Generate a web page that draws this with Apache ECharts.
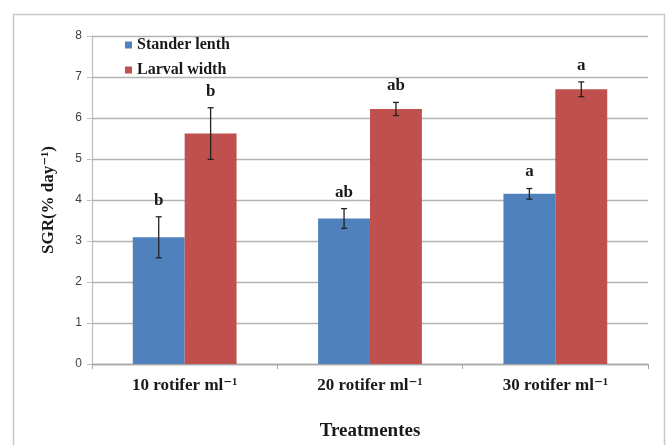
<!DOCTYPE html>
<html>
<head>
<meta charset="utf-8">
<script src="https://cdn.jsdelivr.net/npm/echarts@6/dist/echarts.min.js"></script>
<style>
  html, body { margin: 0; padding: 0; background: #ffffff; }
  #chart { width: 671px; height: 445px; }
</style>
</head>
<body>
<div id="chart"></div>
<script>
// Treatments on the x axis
const categories = ['10 rotifer ml\u207B\u00B9', '20 rotifer ml\u207B\u00B9', '30 rotifer ml\u207B\u00B9'];

// Mean SGR (% day^-1) per treatment
const standerLenth = [3.09, 3.55, 4.15];
const larvalWidth = [5.62, 6.22, 6.70];

// Standard error per mean
const standerLenthErr = [0.50, 0.24, 0.13];
const larvalWidthErr = [0.63, 0.16, 0.18];

// Significance letters above each bar
const standerLenthSig = ['b', 'ab', 'a'];
const larvalWidthSig = ['b', 'ab', 'a'];

// Y axis ticks
const yTicks = [0, 1, 2, 3, 4, 5, 6, 7, 8];

const BLUE = '#4F81BD';
const RED = '#C0504D';
const BAR_FRAC = 0.28;
const serif = '"Liberation Serif", "DejaVu Serif", serif';

function errorSeries(name, means, errs, sigs, side) {
  const data = means.map((m, i) => [i, m, errs[i], sigs[i]]);
  return {
    name: name + ' error',
    type: 'custom',
    z: 5,
    data: data,
    renderItem: function (params, api) {
      const idx = api.value(0);
      const mean = api.value(1);
      const err = api.value(2);
      const band = api.size([1, 0])[0];
      const bw = band * BAR_FRAC;
      const center = api.coord([idx, mean]);
      const x = center[0] + side * bw / 2;
      const top = api.coord([idx, mean + err])[1];
      const bot = api.coord([idx, mean - err])[1];
      const cap = 3;
      const ls = { stroke: '#222', lineWidth: 1.3 };
      return {
        type: 'group',
        children: [
          { type: 'line', shape: { x1: x, y1: top, x2: x, y2: bot }, style: ls },
          { type: 'line', shape: { x1: x - cap, y1: top, x2: x + cap, y2: top }, style: ls },
          { type: 'line', shape: { x1: x - cap, y1: bot, x2: x + cap, y2: bot }, style: ls },
          {
            type: 'text',
            style: {
              x: x, y: top - 8,
              text: sigs[idx],
              textAlign: 'center', textVerticalAlign: 'bottom',
              font: 'bold 17px ' + serif,
              fill: '#1a1a1a'
            }
          }
        ]
      };
    }
  };
}

const chart = echarts.init(document.getElementById('chart'), null, { renderer: 'canvas' });

chart.setOption({
  backgroundColor: '#ffffff',
  animation: false,
  graphic: [{
    type: 'rect',
    shape: { x: 13.5, y: 14.5, width: 651, height: 440 },
    style: { fill: 'none', stroke: '#c8c8c8', lineWidth: 1.5 },
    z: -10
  }],
  legend: {
    orient: 'vertical',
    left: 120,
    top: 32,
    itemWidth: 7,
    itemHeight: 7,
    itemGap: 9,
    icon: 'rect',
    textStyle: { fontFamily: serif, fontWeight: 'bold', fontSize: 16, color: '#1a1a1a' },
    data: ['Stander lenth', 'Larval width']
  },
  grid: { left: 92, right: 23, top: 36, bottom: 81, containLabel: false, outerBoundsMode: 'none' },
  xAxis: {
    type: 'category',
    data: categories,
    name: 'Treatmentes',
    nameLocation: 'middle',
    nameGap: 58,
    nameTextStyle: { fontFamily: serif, fontWeight: 'bold', fontSize: 19, color: '#1a1a1a' },
    axisLine: { lineStyle: { color: '#a6a6a6', width: 1.3 } },
    axisTick: { show: true, alignWithLabel: false, length: 5, lineStyle: { color: '#a6a6a6' } },
    axisLabel: { fontFamily: serif, fontWeight: 'bold', fontSize: 17, color: '#1a1a1a', margin: 13 }
  },
  yAxis: {
    type: 'value',
    min: yTicks[0],
    max: yTicks[yTicks.length - 1],
    interval: 1,
    name: 'SGR(% day\u207B\u00B9)',
    nameLocation: 'middle',
    nameGap: 35,
    nameTextStyle: { fontFamily: serif, fontWeight: 'bold', fontSize: 17, color: '#1a1a1a' },
    axisLine: { show: true, lineStyle: { color: '#bfbfbf', width: 1.3 } },
    axisTick: { show: true, length: 5, lineStyle: { color: '#bfbfbf' } },
    axisLabel: { fontFamily: '"Liberation Sans", Arial, sans-serif', fontSize: 12, color: '#404040', margin: 10 },
    splitLine: { lineStyle: { color: '#b3b3b3', width: 1.3 } }
  },
  series: [
    {
      name: 'Stander lenth',
      type: 'bar',
      data: standerLenth,
      barWidth: (BAR_FRAC * 100) + '%',
      barGap: '0%',
      itemStyle: { color: BLUE }
    },
    {
      name: 'Larval width',
      type: 'bar',
      data: larvalWidth,
      barWidth: (BAR_FRAC * 100) + '%',
      barGap: '0%',
      itemStyle: { color: RED }
    },
    errorSeries('Stander lenth', standerLenth, standerLenthErr, standerLenthSig, -1),
    errorSeries('Larval width', larvalWidth, larvalWidthErr, larvalWidthSig, 1)
  ]
});
</script>
</body>
</html>
